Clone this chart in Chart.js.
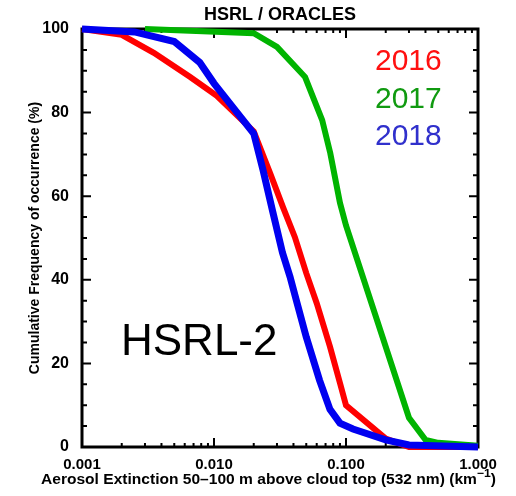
<!DOCTYPE html>
<html>
<head>
<meta charset="utf-8">
<script src="https://cdn.jsdelivr.net/npm/chart.js@4.4.1/dist/chart.umd.min.js"></script>
<style>
  body { margin: 0; background: #fff; }
</style>
</head>
<body>
<canvas id="cfoChart" width="516" height="496"></canvas>
<script>
// series (x: extinction km-1, y: cumulative %)
const years = ['2016', '2017', '2018'];
const ext2016 = [0.001, 0.002, 0.0035, 0.0066, 0.0105, 0.02, 0.0266, 0.0333, 0.041, 0.05, 0.06, 0.0756, 0.09, 0.1, 0.2, 0.3, 1.0];
const cfo2016 = [100, 98.6, 94.3, 88.5, 84, 75.5, 65.5, 57.4, 50.2, 41.6, 34.4, 24, 15.3, 10, 2, 0, 0];
const ext2017 = [0.003, 0.02, 0.03, 0.049, 0.066, 0.076, 0.09, 0.1, 0.3, 0.4, 0.5, 1.0];
const cfo2017 = [100, 99, 95.7, 88.5, 78.2, 70.3, 58.4, 53, 7, 1.7, 1, 0.3];
const ext2018 = [0.001, 0.0025, 0.005, 0.0078, 0.01, 0.02, 0.0235, 0.028, 0.033, 0.0377, 0.0426, 0.05, 0.063, 0.0756, 0.09, 0.113, 0.2, 0.3, 1.0];
const cfo2018 = [100, 99.3, 97, 92, 87, 75, 66.3, 56, 46.5, 40.7, 34.4, 26.3, 16, 9, 5.7, 4.3, 1.7, 0.5, 0];

const xTickValues = [0.001, 0.01, 0.1, 1];
const xTickLabels = ['0.001', '0.010', '0.100', '1.000'];
const yTickValues = [0, 20, 40, 60, 80, 100];

const lineColors = ['#ff0000', '#00b400', '#0000f0'];
const textColors = ['#ff1010', '#109a10', '#3030cc'];

const toPoints = (xs, ys) => xs.map((x, i) => ({ x: x, y: ys[i] }));

const boldFont = (size) => 'bold ' + size + 'px "Liberation Sans", Arial, sans-serif';

// box, inward ticks and the free text
const frameAndText = {
  id: 'frameAndText',
  beforeDatasetsDraw(chart) {
    const { ctx, chartArea: a, scales: { x, y } } = chart;
    ctx.save();
    ctx.strokeStyle = '#000';
    ctx.lineWidth = 2;
    ctx.beginPath();
    // x ticks, top and bottom
    xTickValues.forEach(function(d, i) {
      const px = x.getPixelForValue(d);
      ctx.moveTo(px, a.bottom); ctx.lineTo(px, a.bottom - 9);
      ctx.moveTo(px, a.top); ctx.lineTo(px, a.top + 9);
      if (i < xTickValues.length - 1) {
        for (let k = 2; k <= 9; k++) {
          const pm = x.getPixelForValue(d * k);
          ctx.moveTo(pm, a.bottom); ctx.lineTo(pm, a.bottom - 4);
          ctx.moveTo(pm, a.top); ctx.lineTo(pm, a.top + 4);
        }
      }
    });
    // y ticks, left and right
    for (let v = 0; v <= 100; v += 5) {
      const py = y.getPixelForValue(v);
      const len = v % 20 === 0 ? 9 : 5;
      ctx.moveTo(a.left, py); ctx.lineTo(a.left + len, py);
      ctx.moveTo(a.right, py); ctx.lineTo(a.right - len, py);
    }
    ctx.stroke();
    ctx.lineWidth = 3;
    ctx.strokeRect(a.left, a.top, a.right - a.left, a.bottom - a.top);
    ctx.restore();
  },
  afterDraw(chart) {
    const { ctx, chartArea: a } = chart;
    ctx.save();
    ctx.fillStyle = '#000';

    // title
    ctx.font = boldFont(18);
    ctx.textAlign = 'center';
    ctx.textBaseline = 'alphabetic';
    ctx.fillText('HSRL / ORACLES', 280, 20);

    // y axis title
    ctx.save();
    ctx.translate(39, (a.top + a.bottom) / 2);
    ctx.rotate(-Math.PI / 2);
    ctx.font = boldFont(14);
    ctx.fillText('Cumulative Frequency of occurrence (%)', 0, 0);
    ctx.restore();

    // x axis title with superscript
    const main = 'Aerosol Extinction 50\u2013100 m above cloud top (532 nm) (km';
    ctx.textAlign = 'left';
    ctx.font = boldFont(14);
    const w1 = ctx.measureText(main).width;
    ctx.font = boldFont(11);
    const w2 = ctx.measureText('\u22121').width;
    ctx.font = boldFont(14);
    const w3 = ctx.measureText(')').width;
    const sx = 455 / (w1 + w2 + w3);
    ctx.save();
    ctx.translate(41, 484);
    ctx.scale(sx, 1);
    ctx.fillText(main, 0, 0);
    ctx.font = boldFont(11);
    ctx.fillText('\u22121', w1, -7);
    ctx.font = boldFont(14);
    ctx.fillText(')', w1 + w2, 0);
    ctx.restore();

    // year labels
    ctx.font = '30px "Liberation Sans", Arial, sans-serif';
    const baselines = [70, 108, 145];
    years.forEach(function(yr, i) {
      ctx.fillStyle = textColors[i];
      ctx.fillText(yr, 375, baselines[i]);
    });

    // instrument label
    ctx.fillStyle = '#000';
    ctx.font = '44px "Liberation Sans", Arial, sans-serif';
    ctx.fillText('HSRL-2', 121, 355);
    ctx.restore();
  }
};

const ctx = document.getElementById('cfoChart').getContext('2d');

new Chart(ctx, {
  type: 'line',
  data: {
    datasets: [
      { label: years[0], data: toPoints(ext2016, cfo2016), borderColor: lineColors[0], order: 2 },
      { label: years[1], data: toPoints(ext2017, cfo2017), borderColor: lineColors[1], order: 1 },
      { label: years[2], data: toPoints(ext2018, cfo2018), borderColor: lineColors[2], order: 0, borderWidth: 7 }
    ]
  },
  options: {
    responsive: false,
    animation: false,
    parsing: false,
    layout: { padding: { left: 0, top: 29, right: 38, bottom: 0 } },
    elements: {
      line: { borderWidth: 6, tension: 0, fill: false },
      point: { radius: 0 }
    },
    datasets: { line: { clip: 10 } },
    plugins: {
      legend: { display: false },
      tooltip: { enabled: false }
    },
    scales: {
      x: {
        type: 'logarithmic',
        min: 0.001,
        max: 1,
        grid: { display: false },
        border: { display: false },
        afterBuildTicks: function(scale) {
          scale.ticks = xTickValues.map(v => ({ value: v, major: true }));
        },
        afterFit: function(scale) { scale.height = 49; },
        ticks: {
          autoSkip: false,
          maxRotation: 0,
          padding: 1,
          color: '#000',
          font: { family: 'Liberation Sans', size: 15, weight: 'bold' },
          callback: function(value) {
            const i = xTickValues.indexOf(value);
            return i >= 0 ? xTickLabels[i] : '';
          }
        }
      },
      y: {
        min: 0,
        max: 100,
        grid: { display: false },
        border: { display: false },
        afterBuildTicks: function(scale) {
          scale.ticks = yTickValues.map(v => ({ value: v }));
        },
        afterFit: function(scale) { scale.width = 82; },
        ticks: {
          autoSkip: false,
          padding: 5,
          color: '#000',
          font: { family: 'Liberation Sans', size: 16, weight: 'bold' }
        }
      }
    }
  },
  plugins: [frameAndText]
});
</script>
</body>
</html>
